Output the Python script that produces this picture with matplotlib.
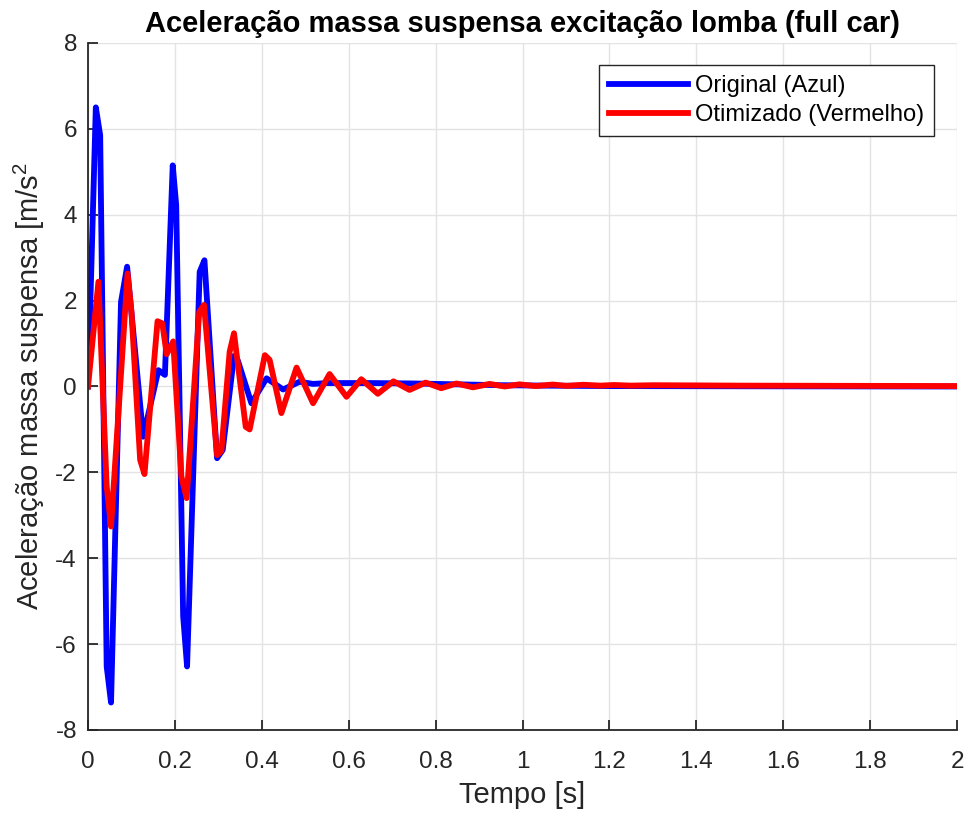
import matplotlib
matplotlib.use("Agg")
from matplotlib import pyplot as plt

# Original (blue) - vertices
t_orig = [0, 0.018, 0.028, 0.043, 0.053, 0.076, 0.090, 0.127, 0.162, 0.177,
          0.195, 0.203, 0.219, 0.228, 0.257, 0.268, 0.297, 0.310, 0.336, 0.345,
          0.376, 0.411, 0.449, 0.487, 0.518, 0.55, 0.65, 0.75, 0.85, 0.95,
          1.05, 1.2, 1.5, 2.0]
a_orig = [0, 6.5, 5.85, -6.52, -7.36, 1.97, 2.79, -1.17, 0.38, 0.27,
          5.15, 4.22, -5.35, -6.52, 2.67, 2.94, -1.67, -1.48, 0.71, 0.6,
          -0.39, 0.19, -0.07, 0.11, 0.06, 0.08, 0.08, 0.07, 0.05, 0.03,
          0.02, 0.01, 0.005, 0.0]

# Otimizado (red)
t_opt = [0, 0.024, 0.043, 0.053, 0.091, 0.100, 0.120, 0.130, 0.160, 0.171,
         0.181, 0.196, 0.215, 0.227, 0.256, 0.267, 0.297, 0.307, 0.326, 0.336,
         0.363, 0.372, 0.407, 0.418, 0.445, 0.48, 0.518, 0.556, 0.595, 0.629,
         0.667, 0.703, 0.74, 0.777, 0.813, 0.848, 0.886, 0.924, 0.959, 0.993,
         1.03, 1.07, 1.1, 1.14, 1.18, 1.21, 1.25, 1.3, 1.5, 2.0]
a_opt = [0, 2.44, -2.33, -3.26, 2.63, 1.74, -1.71, -2.04, 1.52, 1.47,
         0.75, 1.05, -2.1, -2.6, 1.74, 1.9, -1.6, -1.5, 0.81, 1.24,
         -0.94, -1.0, 0.73, 0.62, -0.62, 0.44, -0.39, 0.29, -0.24, 0.17,
         -0.17, 0.12, -0.08, 0.09, -0.04, 0.07, -0.02, 0.06, 0.0, 0.05,
         0.01, 0.045, 0.015, 0.04, 0.02, 0.035, 0.02, 0.03, 0.02, 0.01]

x_ticks = [0, 0.2, 0.4, 0.6, 0.8, 1, 1.2, 1.4, 1.6, 1.8, 2]
y_ticks = [-8, -6, -4, -2, 0, 2, 4, 6, 8]


def main():
    plt.rcParams['font.family'] = ['Liberation Sans', 'DejaVu Sans']
    plt.rcParams['mathtext.fontset'] = 'custom'
    plt.rcParams['mathtext.rm'] = 'Liberation Sans'
    plt.rcParams['mathtext.it'] = 'Liberation Sans'
    plt.rcParams['axes.unicode_minus'] = False

    fig = plt.figure(figsize=(9.66, 8.14), dpi=100)
    ax = fig.add_axes([0.0911, 0.1032, 0.8996, 0.8440])

    ax.plot(t_orig, a_orig, color='#0000ff', lw=4.2, label='Original (Azul)')
    ax.plot(t_opt, a_opt, color='#ff0000', lw=4.2, label='Otimizado (Vermelho)')

    ax.set_xlim(0, 2)
    ax.set_ylim(-8, 8)
    ax.set_xticks(x_ticks)
    ax.set_xticklabels([f'{v:g}' for v in x_ticks])
    ax.set_yticks(y_ticks)
    ax.grid(True, color='#e3e3e3', lw=1)
    ax.set_axisbelow(True)
    for s in ['top', 'right']:
        ax.spines[s].set_visible(False)
    for s in ['left', 'bottom']:
        ax.spines[s].set_color('#262626')
        ax.spines[s].set_linewidth(1.3)
    ax.tick_params(direction='in', length=7, width=1.3, colors='#262626',
                   labelsize=17.5)
    ax.tick_params(axis='x', pad=15)
    ax.tick_params(axis='y', pad=8)

    ax.set_xlabel('Tempo [s]', fontsize=21, color='#262626', labelpad=6)
    ax.set_ylabel('Aceleração massa suspensa [m/s$^2$', fontsize=21,
                  color='#262626', labelpad=6)
    ax.set_title('Aceleração massa suspensa excitação lomba (full car)',
                 fontsize=21, fontweight='bold', pad=8)

    leg = ax.legend(loc='upper right', bbox_to_anchor=(0.9735, 0.968),
                    fontsize=17, fancybox=False, framealpha=1,
                    handlelength=3.35, handletextpad=0.3, borderpad=0.42,
                    labelspacing=0.3, borderaxespad=0)
    leg.get_frame().set_edgecolor('#262626')
    leg.get_frame().set_linewidth(1)

    fig.savefig('out.png', dpi=100)


if __name__ == '__main__':
    main()
